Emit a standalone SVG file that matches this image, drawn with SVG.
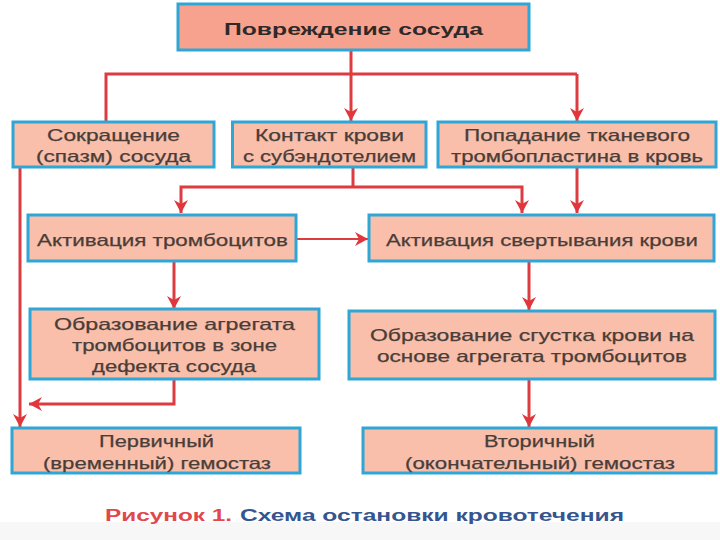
<svg xmlns="http://www.w3.org/2000/svg" width="720" height="540" viewBox="0 0 720 540">
<style>
.b{fill:#f9bfab;stroke:#2ea6d6;stroke-width:3}
.t{font-family:"Liberation Sans",Arial,sans-serif;font-size:16.5px;fill:#4a3d38;stroke:#4a3d38;stroke-width:.25}
.c{fill:none;stroke:#dc3c40;stroke-width:3}
.a{marker-end:url(#h)}
.f{font-family:"Liberation Sans",Arial,sans-serif;font-size:16px;font-weight:700}
</style>
<defs><marker id="h" markerUnits="userSpaceOnUse" markerWidth="16" markerHeight="16" refX="13" refY="8" orient="auto"><path d="M0 1L13 8L0 15L4 8Z" fill="#e0363c"/></marker></defs>
<rect width="720" height="540" fill="#fff"/>
<rect y="522" width="720" height="18" fill="#f7f7f7"/>
<g id="connectors">
<path class="c" d="M106 122V74H577"/>
<path class="c a" d="M351 50V121"/>
<path class="c a" d="M577 74V121"/>
<path class="c" d="M353 167V187"/>
<path class="c a" d="M353 187H181V213"/>
<path class="c a" d="M353 187H522V213"/>
<path class="c a" d="M577 167V213"/>
<path class="c a" style="stroke-width:2" d="M297 239H368"/>
<path class="c a" d="M174 261V309"/>
<path class="c a" d="M529 261V310"/>
<path class="c a" d="M529 379V427"/>
<path class="c a" d="M174 379V404H29"/>
<path class="c a" d="M20 167V427"/>
</g>
<g id="n1"><rect class="b" x="178" y="4" width="351" height="46" style="fill:#f6a28e"/><text class="t" x="224" y="35" textLength="259" lengthAdjust="spacingAndGlyphs" style="font-weight:700;fill:#2e2a2a;stroke:none">Повреждение сосуда</text></g>
<g id="n2"><rect class="b" x="13" y="122" width="201" height="45"/><text class="t" x="47" y="141" textLength="133" lengthAdjust="spacingAndGlyphs">Сокращение</text><text class="t" x="36" y="162" textLength="155" lengthAdjust="spacingAndGlyphs">(спазм) сосуда</text></g>
<g id="n3"><rect class="b" x="232.500" y="122" width="193.500" height="45"/><text class="t" x="255" y="141" textLength="149" lengthAdjust="spacingAndGlyphs">Контакт крови</text><text class="t" x="243" y="162" textLength="173" lengthAdjust="spacingAndGlyphs">с субэндотелием</text></g>
<g id="n4"><rect class="b" x="438" y="122" width="278" height="45"/><text class="t" x="464" y="141" textLength="226" lengthAdjust="spacingAndGlyphs">Попадание тканевого</text><text class="t" x="451" y="162" textLength="252" lengthAdjust="spacingAndGlyphs">тромбопластина в кровь</text></g>
<g id="n5"><rect class="b" x="28" y="215" width="268" height="46"/><text class="t" x="37" y="246" textLength="251" lengthAdjust="spacingAndGlyphs">Активация тромбоцитов</text></g>
<g id="n6"><rect class="b" x="369" y="215" width="345" height="46"/><text class="t" x="386" y="246" textLength="312" lengthAdjust="spacingAndGlyphs">Активация свертывания крови</text></g>
<g id="n7"><rect class="b" x="30" y="309" width="289" height="70"/><text class="t" x="54" y="330" textLength="241" lengthAdjust="spacingAndGlyphs">Образование агрегата</text><text class="t" x="72" y="351" textLength="205" lengthAdjust="spacingAndGlyphs">тромбоцитов в зоне</text><text class="t" x="92" y="372" textLength="164" lengthAdjust="spacingAndGlyphs">дефекта сосуда</text></g>
<g id="n8"><rect class="b" x="349" y="311" width="366" height="68"/><text class="t" x="370" y="341" textLength="324" lengthAdjust="spacingAndGlyphs">Образование сгустка крови на</text><text class="t" x="377" y="362" textLength="310" lengthAdjust="spacingAndGlyphs">основе агрегата тромбоцитов</text></g>
<g id="n9"><rect class="b" x="12" y="428" width="288" height="45"/><text class="t" x="99" y="447" textLength="115" lengthAdjust="spacingAndGlyphs">Первичный</text><text class="t" x="43" y="469" textLength="228" lengthAdjust="spacingAndGlyphs">(временный) гемостаз</text></g>
<g id="n10"><rect class="b" x="363" y="428" width="353" height="45"/><text class="t" x="484" y="447" textLength="111" lengthAdjust="spacingAndGlyphs">Вторичный</text><text class="t" x="405" y="469" textLength="270" lengthAdjust="spacingAndGlyphs">(окончательный) гемостаз</text></g>
<text class="f" x="105" y="521" textLength="127" lengthAdjust="spacingAndGlyphs" fill="#e0484c">Рисунок 1.</text>
<text class="f" x="240" y="521" textLength="384" lengthAdjust="spacingAndGlyphs" fill="#34558f">Схема остановки кровотечения</text>
</svg>
